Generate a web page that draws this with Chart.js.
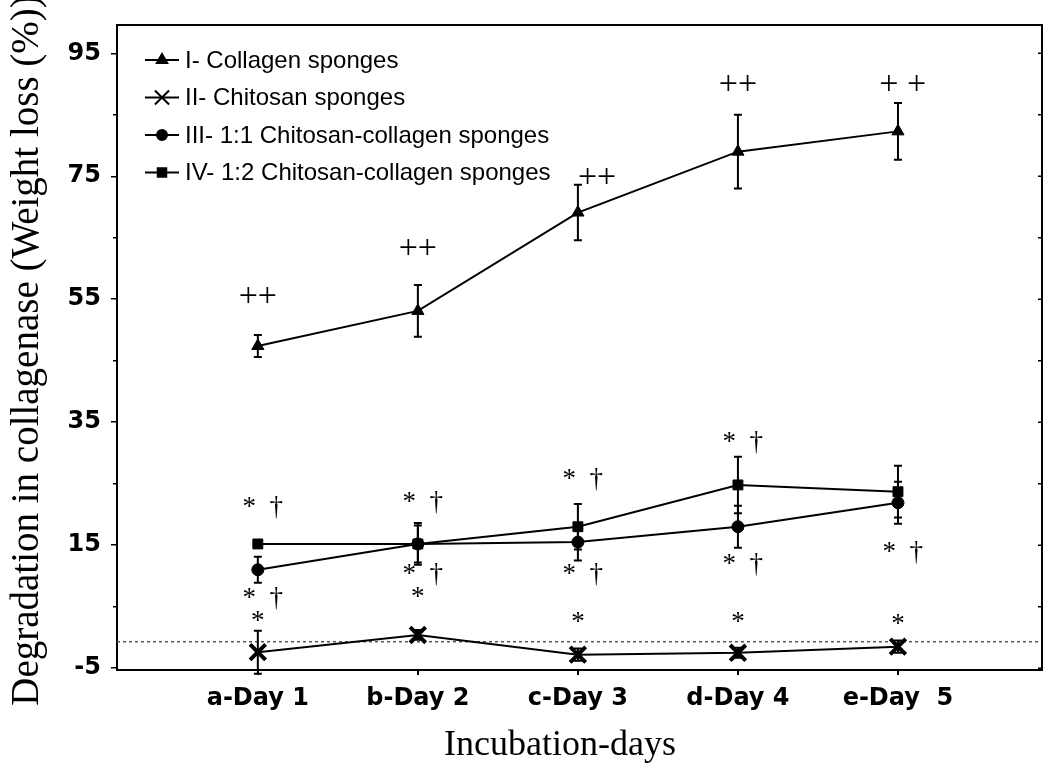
<!DOCTYPE html>
<html>
<head>
<meta charset="utf-8">
<script src="https://cdn.jsdelivr.net/npm/chart.js@4/dist/chart.umd.min.js"></script>
<style>
  html, body { margin: 0; padding: 0; background: #fff; overflow: hidden; }
  #wrap { width: 1057px; height: 771px; }
  canvas { display: block; }
</style>
</head>
<body>
<div id="wrap"><canvas id="degChart"></canvas></div>
<script>
// categories (x positions 0..4)
const days = ["a-Day 1", "b-Day 2", "c-Day 3", "d-Day 4", "e-Day  5"];
const yTicks = [-5, 15, 35, 55, 75, 95];
const yMinorTicks = [5, 25, 45, 65, 85];

// series values (weight loss %)
const collagen = [47.4, 53.1, 69.1, 79.0, 82.3];
const collagenErr = [1.8, 4.2, 4.5, 6.0, 4.6];
const chitosan = [-2.4, 0.4, -2.8, -2.5, -1.5];
const chitosanErr = [3.5, 0.8, 1.0, 0.8, 1.0];
const mix11 = [11.0, 15.2, 15.5, 18.0, 21.9];
const mix11Err = [2.1, 3.0, 3.0, 3.4, 3.4];
const mix12 = [15.2, 15.2, 18.0, 24.8, 23.7];
const mix12Err = [0, 3.4, 3.7, 4.6, 4.2];
const baseline = -0.7;

// significance marks: [x, y, text]
const marks = [
  [0, 55.3, "++"], [1, 63.1, "++"], [2.12, 74.7, "++"], [3, 89.8, "++"], [4.03, 89.8, "+ +"],
  [0.03, 21.0, "*  †"], [0.03, 6.2, "*  †"], [0, 2.6, "*"],
  [1.03, 21.8, "*  †"], [1.03, 10.1, "*  †"], [1, 6.4, "*"],
  [2.03, 25.6, "*  †"], [2.03, 10.1, "*  †"], [2, 2.3, "*"],
  [3.03, 31.6, "*  †"], [3.03, 11.8, "*  †"], [3, 2.3, "*"],
  [4.03, 13.7, "*  †"], [4, 2.0, "*"]
];

const legendNames = [
  "I- Collagen sponges",
  "II- Chitosan sponges",
  "III- 1:1 Chitosan-collagen sponges",
  "IV- 1:2 Chitosan-collagen sponges"
];
const xTitle = "Incubation-days";
const yTitle = "Degradation in collagenase (Weight loss (%))";

function pts(arr) { return arr.map((v, i) => ({ x: i, y: v })); }

const errs = [collagenErr, chitosanErr, mix11Err, mix12Err];

const extras = {
  id: "extras",
  beforeDatasetsDraw(chart) {
    const ctx = chart.ctx, a = chart.chartArea;
    const xs = chart.scales.x, ys = chart.scales.y;
    // dotted reference line
    ctx.save();
    ctx.strokeStyle = "#555";
    ctx.lineWidth = 1.5;
    ctx.setLineDash([3, 3]);
    const yb = ys.getPixelForValue(baseline);
    ctx.beginPath(); ctx.moveTo(a.left, yb); ctx.lineTo(a.right, yb); ctx.stroke();
    ctx.restore();
    // error bars
    ctx.save();
    ctx.strokeStyle = "#000";
    ctx.lineWidth = 2;
    chart.data.datasets.forEach((ds, di) => {
      ds.data.forEach((p, i) => {
        const e = errs[di][i];
        if (!e) return;
        const px = xs.getPixelForValue(p.x);
        const top = ys.getPixelForValue(p.y + e), bot = ys.getPixelForValue(p.y - e);
        ctx.beginPath();
        ctx.moveTo(px, top); ctx.lineTo(px, bot);
        ctx.moveTo(px - 4, top); ctx.lineTo(px + 4, top);
        ctx.moveTo(px - 4, bot); ctx.lineTo(px + 4, bot);
        ctx.stroke();
      });
    });
    ctx.restore();
  },
  afterDraw(chart) {
    const ctx = chart.ctx, a = chart.chartArea;
    const xs = chart.scales.x, ys = chart.scales.y;
    ctx.save();
    // frame top & right
    ctx.strokeStyle = "#000";
    ctx.lineWidth = 2;
    ctx.beginPath();
    ctx.moveTo(a.left, a.top); ctx.lineTo(a.right, a.top); ctx.lineTo(a.right, a.bottom);
    ctx.stroke();
    // minor ticks left, inward ticks right
    ctx.lineWidth = 1.5;
    ctx.beginPath();
    yMinorTicks.forEach(v => {
      const y = ys.getPixelForValue(v);
      ctx.moveTo(a.left - 4, y); ctx.lineTo(a.left, y);
    });
    yTicks.concat(yMinorTicks).forEach(v => {
      const y = ys.getPixelForValue(v);
      ctx.moveTo(a.right - 4, y); ctx.lineTo(a.right, y);
    });
    ctx.stroke();
    // significance marks
    ctx.fillStyle = "#000";
    ctx.textAlign = "center";
    ctx.textBaseline = "middle";
    marks.forEach(m => {
      ctx.font = m[2].indexOf("+") >= 0 ? "34px 'Liberation Serif'" : "27px 'Liberation Serif'";
      ctx.fillText(m[2], xs.getPixelForValue(m[0]), ys.getPixelForValue(m[1]));
    });
    // legend
    ctx.textAlign = "left";
    ctx.font = "24px 'Liberation Sans', Arial, sans-serif";
    chart.data.datasets.forEach((ds, i) => {
      const y = a.top + 35 + i * 37.5;
      const x0 = a.left + 28, x1 = a.left + 62;
      ctx.lineWidth = 2;
      ctx.beginPath(); ctx.moveTo(x0, y); ctx.lineTo(x1, y); ctx.stroke();
      Chart.helpers.drawPoint(ctx, {
        pointStyle: ds.pointStyle, radius: ds.pointRadius - 1, borderWidth: ds.pointBorderWidth, rotation: 0
      }, (x0 + x1) / 2, y);
      ctx.fillText(legendNames[i], x1 + 6, y + 1);
    });
    // axis titles
    ctx.textAlign = "center";
    ctx.textBaseline = "alphabetic";
    ctx.font = "36px 'Liberation Serif', 'Times New Roman', serif";
    ctx.fillText(xTitle, 560, 755);
    ctx.translate(38, (a.top + a.bottom) / 2 + 3);
    ctx.rotate(-Math.PI / 2);
    ctx.font = "39px 'Liberation Serif', 'Times New Roman', serif";
    ctx.fillText(yTitle, 0, 0);
    ctx.restore();
  }
};

function series(data, style, r, bw) {
  return {
    data: pts(data),
    borderColor: "#000",
    backgroundColor: "#000",
    borderWidth: 2,
    pointStyle: style,
    pointRadius: r,
    pointBorderWidth: bw,
    pointBorderColor: "#000",
    pointBackgroundColor: "#000",
    tension: 0
  };
}

const ctx = document.getElementById("degChart").getContext("2d");
new Chart(ctx, {
  type: "line",
  data: {
    datasets: [
      series(collagen, "triangle", 7, 1),
      series(chitosan, "crossRot", 11, 4),
      series(mix11, "circle", 6, 1),
      series(mix12, "rect", 7, 1)
    ]
  },
  options: {
    responsive: true,
    maintainAspectRatio: false,
    animation: false,
    layout: { padding: { top: 25, right: 3, left: 0, bottom: 0 } },
    plugins: { legend: { display: false }, tooltip: { enabled: false } },
    scales: {
      x: {
        type: "linear",
        min: -0.88,
        max: 4.9,
        afterBuildTicks: s => { s.ticks = days.map((d, i) => ({ value: i })); },
        afterFit: s => { s.height = 101; },
        ticks: {
          callback: v => days[v],
          color: "#000",
          font: { family: "'DejaVu Sans', Arial", size: 24, weight: "bold" },
          padding: 9,
          maxRotation: 0
        },
        grid: { drawOnChartArea: false, drawTicks: true, tickLength: 5, color: "#000", lineWidth: 2 },
        border: { display: true, color: "#000", width: 2 }
      },
      y: {
        min: -5.3,
        max: 99.6,
        afterBuildTicks: s => { s.ticks = yTicks.map(v => ({ value: v })); },
        afterFit: s => { s.width = 117; },
        ticks: {
          color: "#000",
          font: { family: "'DejaVu Sans', Arial", size: 24, weight: "bold" },
          padding: 10
        },
        grid: { drawOnChartArea: false, drawTicks: true, tickLength: 6, color: "#000", lineWidth: 1.5 },
        border: { display: true, color: "#000", width: 2 }
      }
    }
  },
  plugins: [extras]
});
</script>
</body>
</html>
